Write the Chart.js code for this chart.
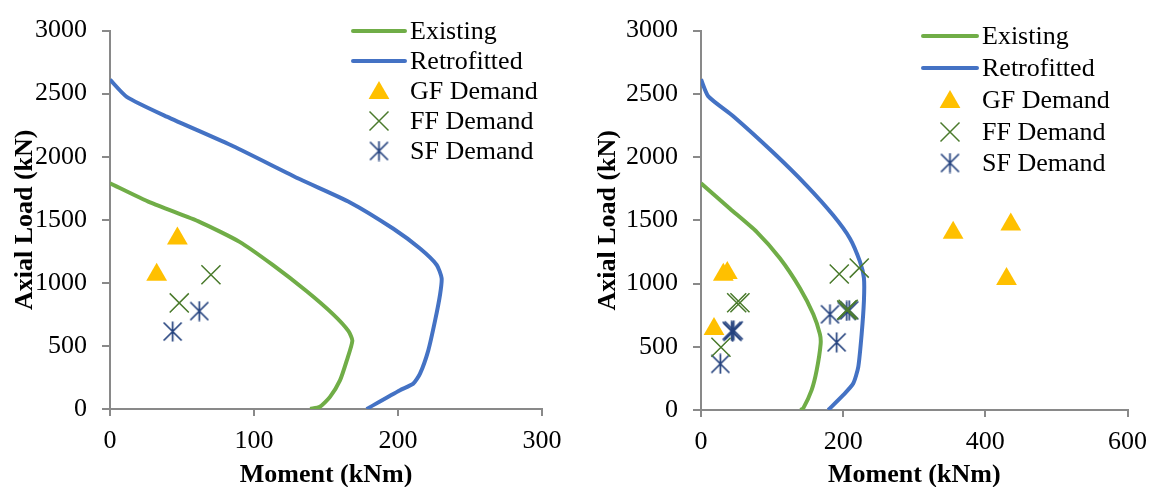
<!DOCTYPE html>
<html>
<head>
<meta charset="utf-8">
<script src="https://cdn.jsdelivr.net/npm/chart.js@4/dist/chart.umd.min.js"></script>
<style>
  html, body { margin: 0; padding: 0; background: #ffffff; }
  #wrap { position: relative; width: 1157px; height: 487px; overflow: hidden; }
  canvas { position: absolute; top: 0; }
</style>
</head>
<body>
<div id="wrap">
  <canvas id="c1" width="578" height="487" style="left:0px"></canvas>
  <canvas id="c2" width="579" height="487" style="left:578px"></canvas>
</div>
<script>
// ---------- DATA ----------
// Left chart
const existingM1 = [0, 27.8, 62.5, 90, 113, 136.6, 155, 165.5, 168.3, 164.4, 159.7, 152.8, 145.8, 139];
const existingP1 = [1790, 1638, 1482, 1325, 1142, 933, 750, 619, 541, 384, 227, 96, 18, 0];
const retroM1 = [0, 11.6, 39.4, 85.6, 132, 166.7, 196.8, 215.3, 226.9, 230.3, 229.2, 225.7, 221, 215.3, 210.6, 201.4, 178.2];
const retroP1 = [2611, 2475, 2318, 2083, 1821, 1638, 1429, 1272, 1142, 1037, 907, 698, 463, 280, 201, 149, 0];
const gfM1 = [46.8, 32.4];
const gfP1 = [1351, 1064];
const ffM1 = [70.1, 48.1];
const ffP1 = [1064, 841];
const sfM1 = [62, 43.5];
const sfP1 = [776, 614];

// Right chart
const existingM2 = [0, 40.8, 78.3, 111, 139, 158, 167.3, 168.3, 162.7, 155.6, 143.8, 140];
const existingP2 = [1793, 1592, 1409, 1200, 965, 757, 600, 522, 313, 157, 13, 0];
const retroM2 = [0, 10.3, 45.4, 101.6, 148.6, 186, 209.5, 223.5, 229.2, 229.2, 226, 221.2, 214.1, 200, 179];
const retroP2 = [2615, 2480, 2323, 2036, 1775, 1540, 1357, 1175, 1044, 861, 600, 339, 209, 117, 0];
const gfM2 = [31.4, 37, 18.3, 354.7, 435.8, 429.8];
const gfP2 = [1070, 1083, 640, 1402, 1467, 1036];
const ffM2 = [194.5, 222.6, 50.2, 54.8, 28.1, 207, 205];
const ffP2 = [1075, 1122, 848, 848, 496, 796, 790];
const sfM2 = [181.4, 208.5, 190.8, 43.1, 46, 44.5, 27.2, 205];
const sfP2 = [757, 788, 535, 626, 630, 618, 365, 783];

// Axis settings
const xMax1 = 300, xStep1 = 100;
const xMax2 = 600, xStep2 = 200;
const yMax = 3000, yStep = 500;

const seriesNames = ['Existing', 'Retrofitted', 'GF Demand', 'FF Demand', 'SF Demand'];
const xTitle = 'Moment (kNm)';
const yTitle = 'Axial Load (kN)';

// ---------- STYLE ----------
const FONT = "'Liberation Serif', 'Times New Roman', serif";
const GREEN = '#70AD47', BLUE = '#4472C4', GOLD = '#FFC000', FFC = '#4A7A2C', SFC = '#24427E';
const AXIS = '#898989';

function zip(a, b) { return a.map((v, i) => ({ x: v, y: b[i] })); }

// Asterisk-like marker (X with a vertical bar), as in the reference
function makeStar(size, color, lw) {
  const c = document.createElement('canvas');
  c.width = size; c.height = size;
  const g = c.getContext('2d');
  g.strokeStyle = color; g.lineWidth = lw;
  const m = 1.5, s = size;
  g.beginPath();
  g.moveTo(m, m); g.lineTo(s - m, s - m);
  g.moveTo(s - m, m); g.lineTo(m, s - m);
  g.moveTo(s / 2, 0.5); g.lineTo(s / 2, s - 0.5);
  g.stroke();
  return c;
}
const starImg = makeStar(21, SFC, 1.7);

function drawTri(ctx, x, y, r) {
  let rad = 0;
  ctx.beginPath();
  ctx.moveTo(x + Math.sin(rad) * r, y - Math.cos(rad) * r);
  rad += 2 * Math.PI / 3;
  ctx.lineTo(x + Math.sin(rad) * r, y - Math.cos(rad) * r);
  rad += 2 * Math.PI / 3;
  ctx.lineTo(x + Math.sin(rad) * r, y - Math.cos(rad) * r);
  ctx.closePath();
  ctx.fill();
}

const legendPlugin = {
  id: 'customLegend',
  afterDraw(chart, args, o) {
    const ctx = chart.ctx;
    ctx.save();
    ctx.font = '26px ' + FONT;
    ctx.fillStyle = '#000';
    ctx.textBaseline = 'middle';
    ctx.textAlign = 'left';
    const ys = o.ys;
    ctx.lineWidth = 4; ctx.lineCap = 'round';
    [[GREEN, ys[0]], [BLUE, ys[1]]].forEach(([col, y]) => {
      ctx.strokeStyle = col;
      ctx.beginPath(); ctx.moveTo(o.lx0, y); ctx.lineTo(o.lx1, y); ctx.stroke();
    });
    ctx.fillStyle = GOLD;
    drawTri(ctx, o.mx, ys[2] + 2, 12);
    ctx.strokeStyle = FFC; ctx.lineWidth = 1.5; ctx.lineCap = 'butt';
    const d = 9.5;
    ctx.beginPath();
    ctx.moveTo(o.mx - d, ys[3] - d); ctx.lineTo(o.mx + d, ys[3] + d);
    ctx.moveTo(o.mx + d, ys[3] - d); ctx.lineTo(o.mx - d, ys[3] + d);
    ctx.stroke();
    ctx.drawImage(starImg, o.mx - starImg.width / 2, ys[4] - starImg.height / 2);
    ctx.fillStyle = '#000';
    seriesNames.forEach((t, i) => ctx.fillText(t, o.tx, ys[i] + 1));
    ctx.restore();
  }
};

function makeChart(id, d) {
  const ctx = document.getElementById(id).getContext('2d');
  return new Chart(ctx, {
    type: 'scatter',
    data: {
      datasets: [
        { label: seriesNames[2], data: zip(d.gfM, d.gfP), pointStyle: 'triangle', pointRadius: 12,
          backgroundColor: GOLD, borderColor: GOLD, borderWidth: 0, order: 0 },
        { label: seriesNames[3], data: zip(d.ffM, d.ffP), pointStyle: 'crossRot', pointRadius: 13.5,
          borderColor: FFC, borderWidth: 1.5, order: 0 },
        { label: seriesNames[4], data: zip(d.sfM, d.sfP), pointStyle: starImg, pointRadius: 10,
          borderColor: SFC, order: 0 },
        { label: seriesNames[0], data: zip(d.exM, d.exP), showLine: true, pointRadius: 0,
          borderColor: GREEN, borderWidth: 4, tension: 0.2, fill: false, order: 1 },
        { label: seriesNames[1], data: zip(d.reM, d.reP), showLine: true, pointRadius: 0,
          borderColor: BLUE, borderWidth: 4, tension: 0.2, fill: false, order: 1 }
      ]
    },
    options: {
      responsive: false,
      animation: false,
      events: [],
      layout: { padding: { left: 0, top: 27, right: d.padRight, bottom: 0 } },
      plugins: {
        legend: { display: false },
        tooltip: { enabled: false },
        customLegend: d.legend
      },
      scales: {
        x: {
          type: 'linear', min: 0, max: d.xMax,
          ticks: { stepSize: d.xStep, color: '#000', font: { family: FONT, size: 26 }, padding: 10, maxRotation: 0,
                   callback: v => String(v) },
          grid: { drawOnChartArea: false, drawTicks: true, tickLength: 7, color: AXIS, lineWidth: 2 },
          border: { color: AXIS, width: 2 },
          title: { display: true, text: xTitle, color: '#000', font: { family: FONT, size: 26, weight: 'bold', lineHeight: 1 }, padding: { top: 0, bottom: -1 } },
          afterFit(s) { s.height = d.xAxisH; }
        },
        y: {
          type: 'linear', min: 0, max: yMax,
          ticks: { stepSize: yStep, color: '#000', font: { family: FONT, size: 26 }, padding: 15,
                   callback: v => String(v) },
          grid: { drawOnChartArea: false, drawTicks: true, tickLength: 8, color: AXIS, lineWidth: 2 },
          border: { color: AXIS, width: 2 },
          title: { display: true, text: yTitle, color: '#000', font: { family: FONT, size: 26, weight: 'bold', lineHeight: 1 }, padding: { top: d.yTitlePad, bottom: 0 } },
          afterFit(s) { s.width = d.yAxisW; }
        }
      }
    },
    plugins: [legendPlugin]
  });
}

makeChart('c1', {
  exM: existingM1, exP: existingP1, reM: retroM1, reP: retroP1,
  gfM: gfM1, gfP: gfP1, ffM: ffM1, ffP: ffP1, sfM: sfM1, sfP: sfP1,
  xMax: xMax1, xStep: xStep1, padRight: 36, xAxisH: 78, yAxisW: 110, yTitlePad: 12,
  legend: { lx0: 353, lx1: 405, tx: 410, mx: 379, ys: [31, 61, 91, 121, 151] }
});
makeChart('c2', {
  exM: existingM2, exP: existingP2, reM: retroM2, reP: retroP2,
  gfM: gfM2, gfP: gfP2, ffM: ffM2, ffP: ffP2, sfM: sfM2, sfP: sfP2,
  xMax: xMax2, xStep: xStep2, padRight: 29, xAxisH: 77, yAxisW: 123, yTitlePad: 17,
  legend: { lx0: 923 - 578, lx1: 977 - 578, tx: 982 - 578, mx: 950 - 578, ys: [36, 68, 100, 132, 163] }
});
</script>
</body>
</html>
